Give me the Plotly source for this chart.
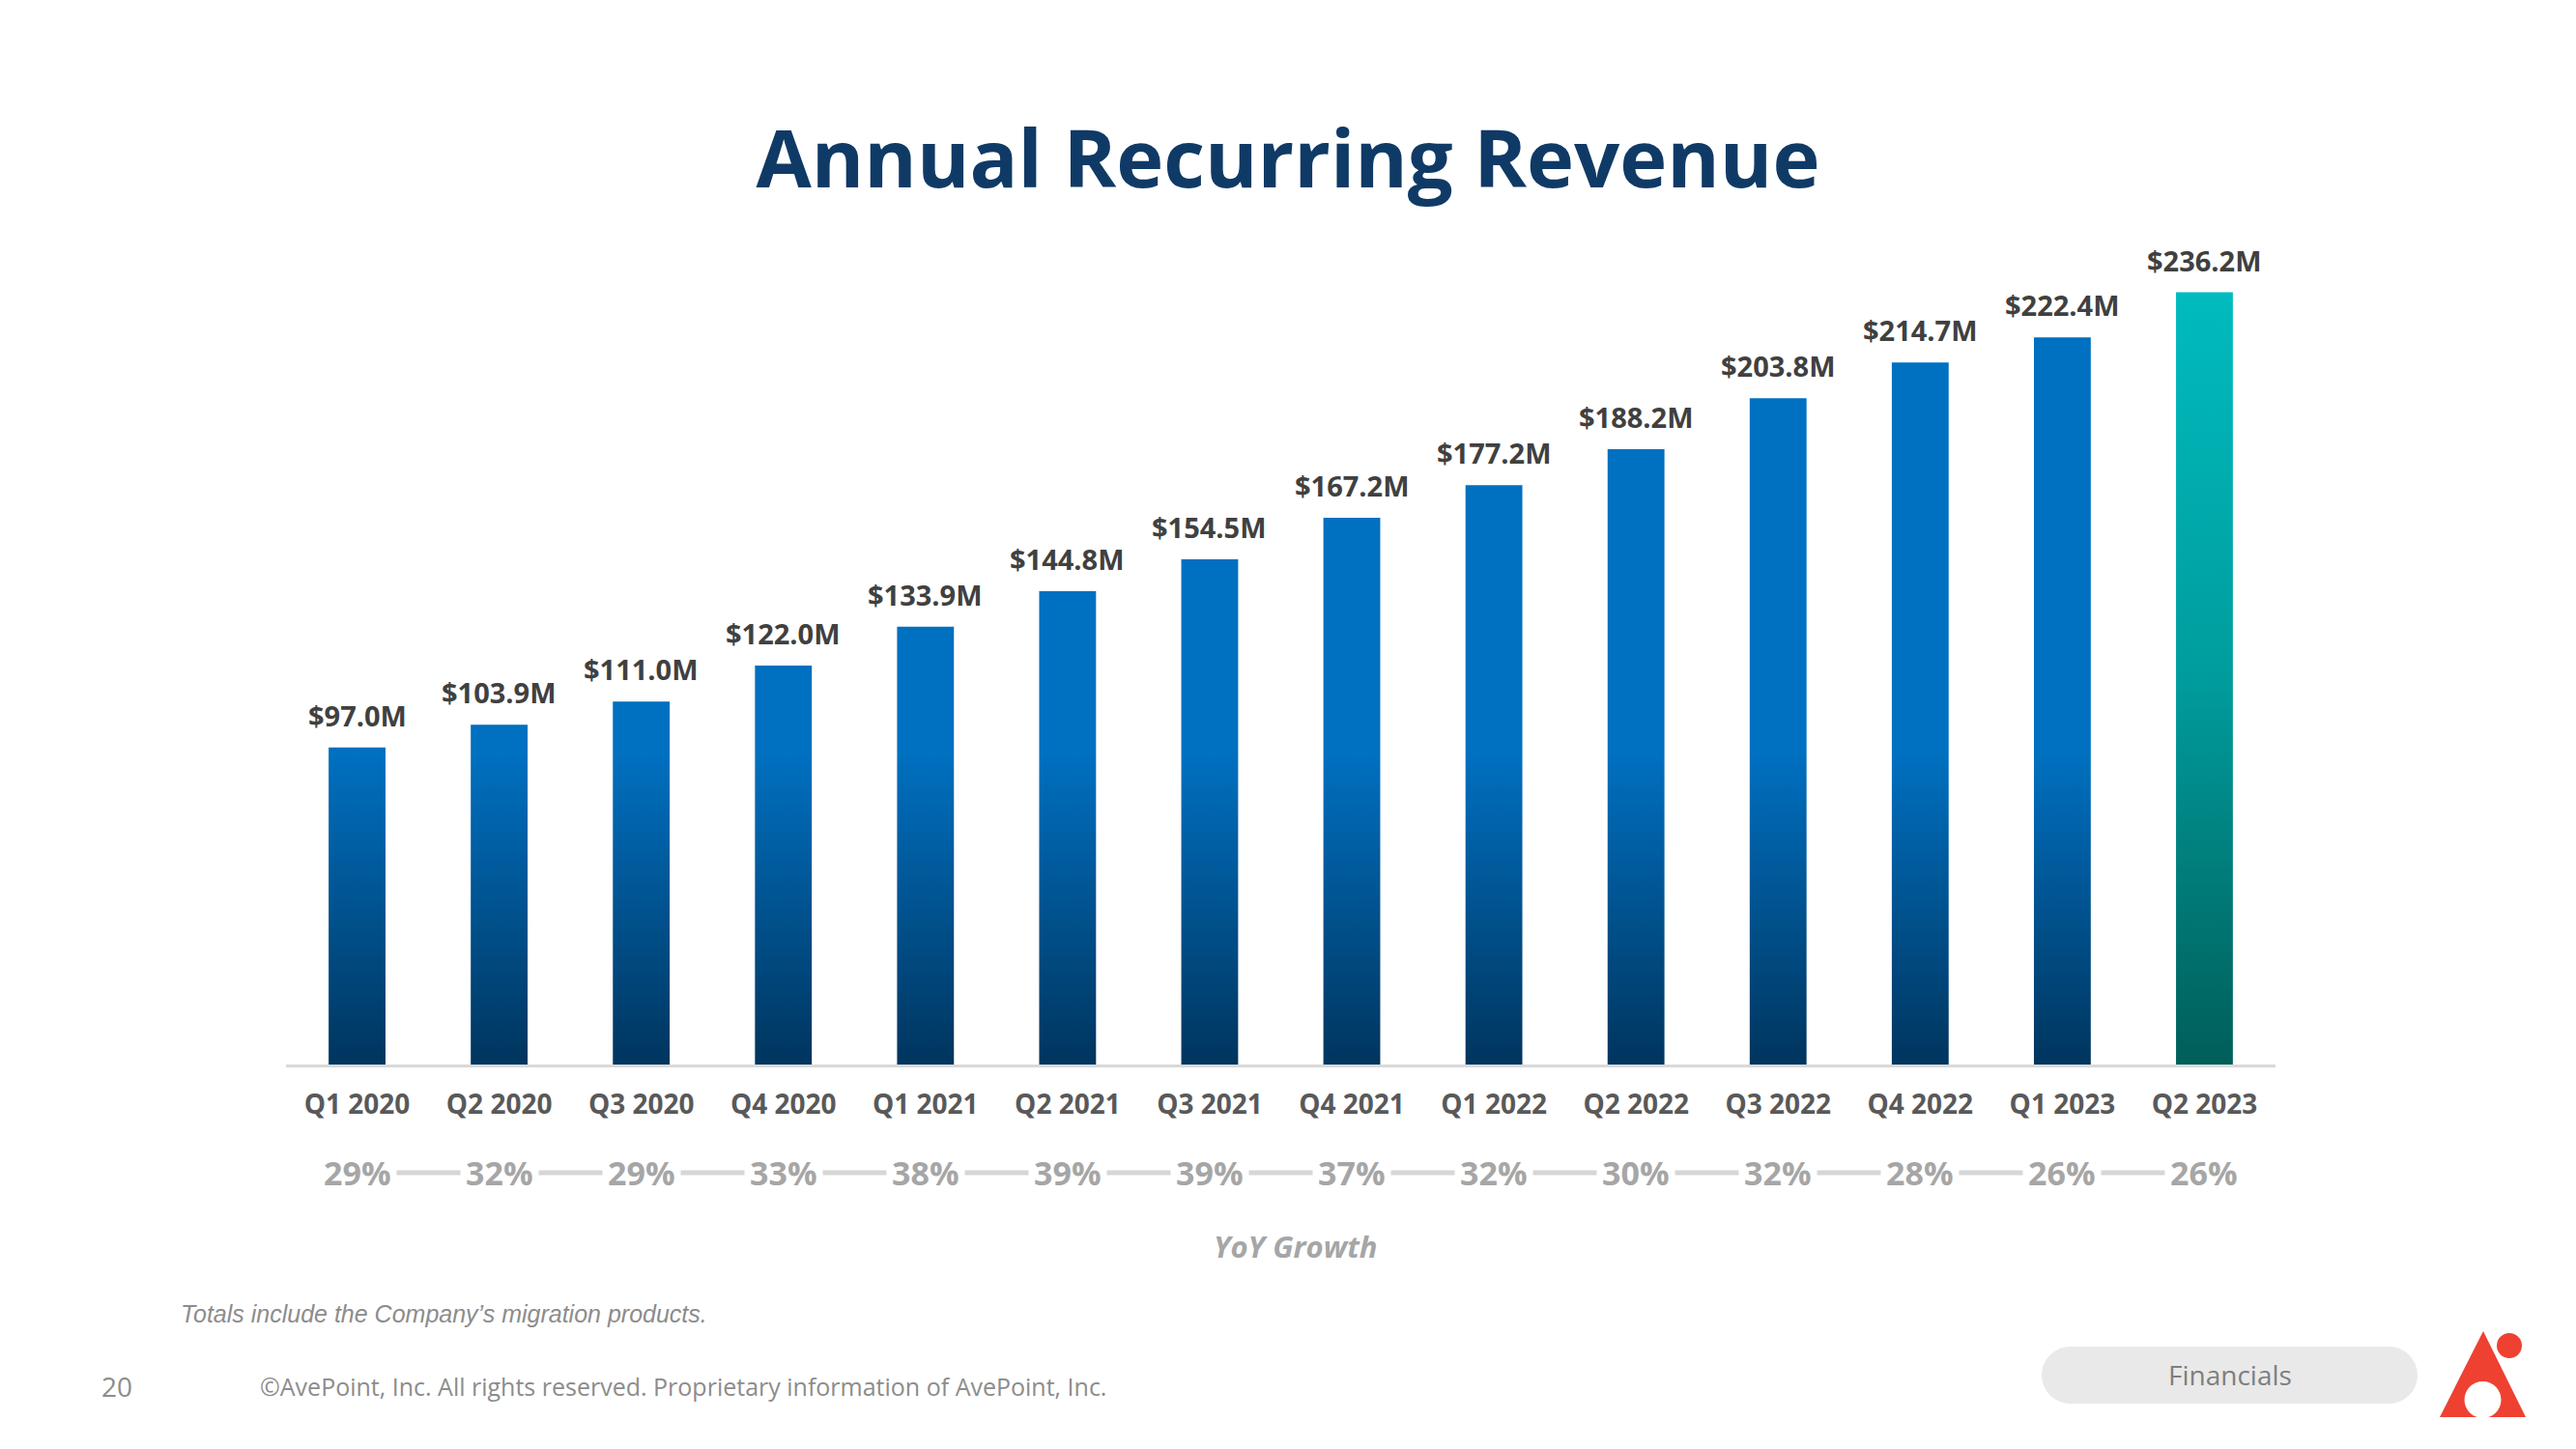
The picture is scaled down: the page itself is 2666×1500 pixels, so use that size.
import plotly.graph_objects as go

# ---------------- data ----------------
quarters = ["Q1 2020", "Q2 2020", "Q3 2020", "Q4 2020", "Q1 2021", "Q2 2021", "Q3 2021",
            "Q4 2021", "Q1 2022", "Q2 2022", "Q3 2022", "Q4 2022", "Q1 2023", "Q2 2023"]
arr_musd = [97.0, 103.9, 111.0, 122.0, 133.9, 144.8, 154.5,
            167.2, 177.2, 188.2, 203.8, 214.7, 222.4, 236.2]
yoy_growth_pct = [29, 32, 29, 33, 38, 39, 39, 37, 32, 30, 32, 28, 26, 26]

value_labels = [f"${v:.1f}M" for v in arr_musd]
growth_labels = [f"{g}%" for g in yoy_growth_pct]

# ---------------- layout geometry ----------------
W, H = 2666, 1500
M_L, M_R, M_T, M_B = 296, 311, 200, 100
PLOT_TOP, PLOT_BOT = M_T, H - M_B
PLOT_W = W - M_L - M_R


def py(ypix):
    return (PLOT_BOT - ypix) / (PLOT_BOT - PLOT_TOP)


def px(xpix):
    return (xpix - M_L) / PLOT_W


AXIS_Y_PIX = 1102
TOP_Y_PIX = 222
Y_MAX = 260
PCT_ROW_PIX = 1214

FONT = "Open Sans"
n = len(quarters)
BAR_HALF = 0.2


def bar_outline(indices, values):
    xs, ys = [], []
    for i in indices:
        v = values[i]
        xs += [i - BAR_HALF, i - BAR_HALF, i + BAR_HALF, i + BAR_HALF, i - BAR_HALF, None]
        ys += [0, v, v, 0, 0, None]
    return xs, ys


fig = go.Figure()

bx, by = bar_outline(range(n - 1), arr_musd)
fig.add_trace(go.Scatter(
    x=bx, y=by, mode="lines", fill="toself", line=dict(width=0),
    fillgradient=dict(type="vertical", colorscale=[[0, "#00355E"], [1, "#0070C0"]],
                      start=0, stop=95),
    hoverinfo="skip", showlegend=False))

tx, ty = bar_outline([n - 1], arr_musd)
fig.add_trace(go.Scatter(
    x=tx, y=ty, mode="lines", fill="toself", line=dict(width=0),
    fillgradient=dict(type="vertical",
                      colorscale=[[0, "#005E59"], [0.5, "#009C9D"], [1, "#00BBBF"]],
                      start=0, stop=arr_musd[-1]),
    hoverinfo="skip", showlegend=False))

# YoY growth connector line
fig.add_trace(go.Scatter(
    x=list(range(n)), y=[0] * n, xaxis="x", yaxis="y2", mode="lines",
    line=dict(color="#D6D6D6", width=5), hoverinfo="skip", showlegend=False))

annotations = []
for i, (v, lab) in enumerate(zip(arr_musd, value_labels)):
    annotations.append(dict(
        x=i, y=v, xref="x", yref="y", text=lab, showarrow=False,
        xanchor="center", yanchor="bottom", yshift=12,
        font=dict(family=FONT, size=29, color="#404040", weight=700)))

for i, lab in enumerate(growth_labels):
    annotations.append(dict(
        x=i, y=0, xref="x", yref="y2", text=lab, showarrow=False,
        xanchor="center", yanchor="middle",
        bgcolor="white", borderpad=5,
        font=dict(family=FONT, size=34, color="#A6A6A6", weight=700)))


def text_at(xpix, ypix, text, font, xanchor="center"):
    return dict(x=px(xpix), y=py(ypix), xref="paper", yref="paper", text=text,
                showarrow=False, xanchor=xanchor, yanchor="middle", font=font)


annotations += [
    text_at(1341, 1290, "YoY Growth",
            dict(family=FONT, size=31, color="#A6A6A6", weight=700, style="italic")),
    text_at(185, 1360, "Totals include the Company’s migration products.",
            dict(family="Liberation Sans", size=25, color="#8C8C8C", style="italic"),
            xanchor="left"),
    text_at(121, 1435, "20", dict(family=FONT, size=28, color="#8C8C8C")),
    text_at(267, 1435,
            "©AvePoint, Inc. All rights reserved. Proprietary information of AvePoint, Inc.",
            dict(family=FONT, size=25, color="#8C8C8C"), xanchor="left"),
    text_at(2308, 1423, "Financials", dict(family=FONT, size=28, color="#7F7F7F")),
]

# decorative shapes: pill + logo (pixel-sized, anchored in paper coords)
pw, ph = 389, 59
r = ph / 2
PILL_X, PILL_Y = 2307.5, 1423.5
PILL_COL = "#E9E9E9"
LOGO_RED = "#EE4131"


def pshape(kind, xpix, ypix, x0, x1, y0, y1, color, **kw):
    return dict(type=kind, xref="paper", yref="paper", xsizemode="pixel", ysizemode="pixel",
                xanchor=px(xpix), yanchor=py(ypix), x0=x0, x1=x1, y0=y0, y1=y1,
                fillcolor=color, line=dict(width=0), **kw)


shapes = [
    pshape("rect", PILL_X, PILL_Y, -pw / 2 + r, pw / 2 - r, -r, r, PILL_COL, layer="below"),
    pshape("circle", PILL_X - pw / 2 + r, PILL_Y, -r, r, -r, r, PILL_COL, layer="below"),
    pshape("circle", PILL_X + pw / 2 - r, PILL_Y, -r, r, -r, r, PILL_COL, layer="below"),
    # logo triangle
    dict(type="path", xref="paper", yref="paper", xsizemode="pixel", ysizemode="pixel",
         xanchor=px(2570), yanchor=py(1467),
         path="M -45,0 L 0,89 L 44,0 Z", fillcolor=LOGO_RED, line=dict(width=0)),
    pshape("circle", 2597, 1393, -13, 13, -13, 13, LOGO_RED),
    pshape("circle", 2569.5, 1449, -19, 19, -19, 19, "white"),
]

fig.update_layout(
    width=W, height=H,
    margin=dict(l=M_L, r=M_R, t=M_T, b=M_B, autoexpand=False),
    paper_bgcolor="white", plot_bgcolor="white",
    showlegend=False,
    title=dict(text="Annual Recurring Revenue", x=0.5, xref="container", xanchor="center",
               y=1 - 165 / H, yref="container", yanchor="middle",
               font=dict(family=FONT, size=83, color="#103A66", weight=700)),
    xaxis=dict(range=[-0.5, n - 0.5], tickmode="array", tickvals=list(range(n)),
               ticktext=quarters, ticks="", showgrid=False, zeroline=False,
               showline=True, linecolor="#D9D9D9", linewidth=3,
               tickfont=dict(family=FONT, size=28, color="#595959", weight=700),
               ticklabelstandoff=14, fixedrange=True),
    yaxis=dict(domain=[py(AXIS_Y_PIX), py(TOP_Y_PIX)], range=[0, Y_MAX], visible=False,
               showgrid=False, zeroline=False, fixedrange=True),
    yaxis2=dict(domain=[py(PCT_ROW_PIX + 20), py(PCT_ROW_PIX - 20)], range=[-1, 1],
                visible=False, anchor="x", showgrid=False, zeroline=False, fixedrange=True),
    annotations=annotations,
    shapes=shapes,
    hovermode=False,
)

fig.write_html("out.html", config={"displayModeBar": False},
               post_script="document.body.style.margin='0';")
